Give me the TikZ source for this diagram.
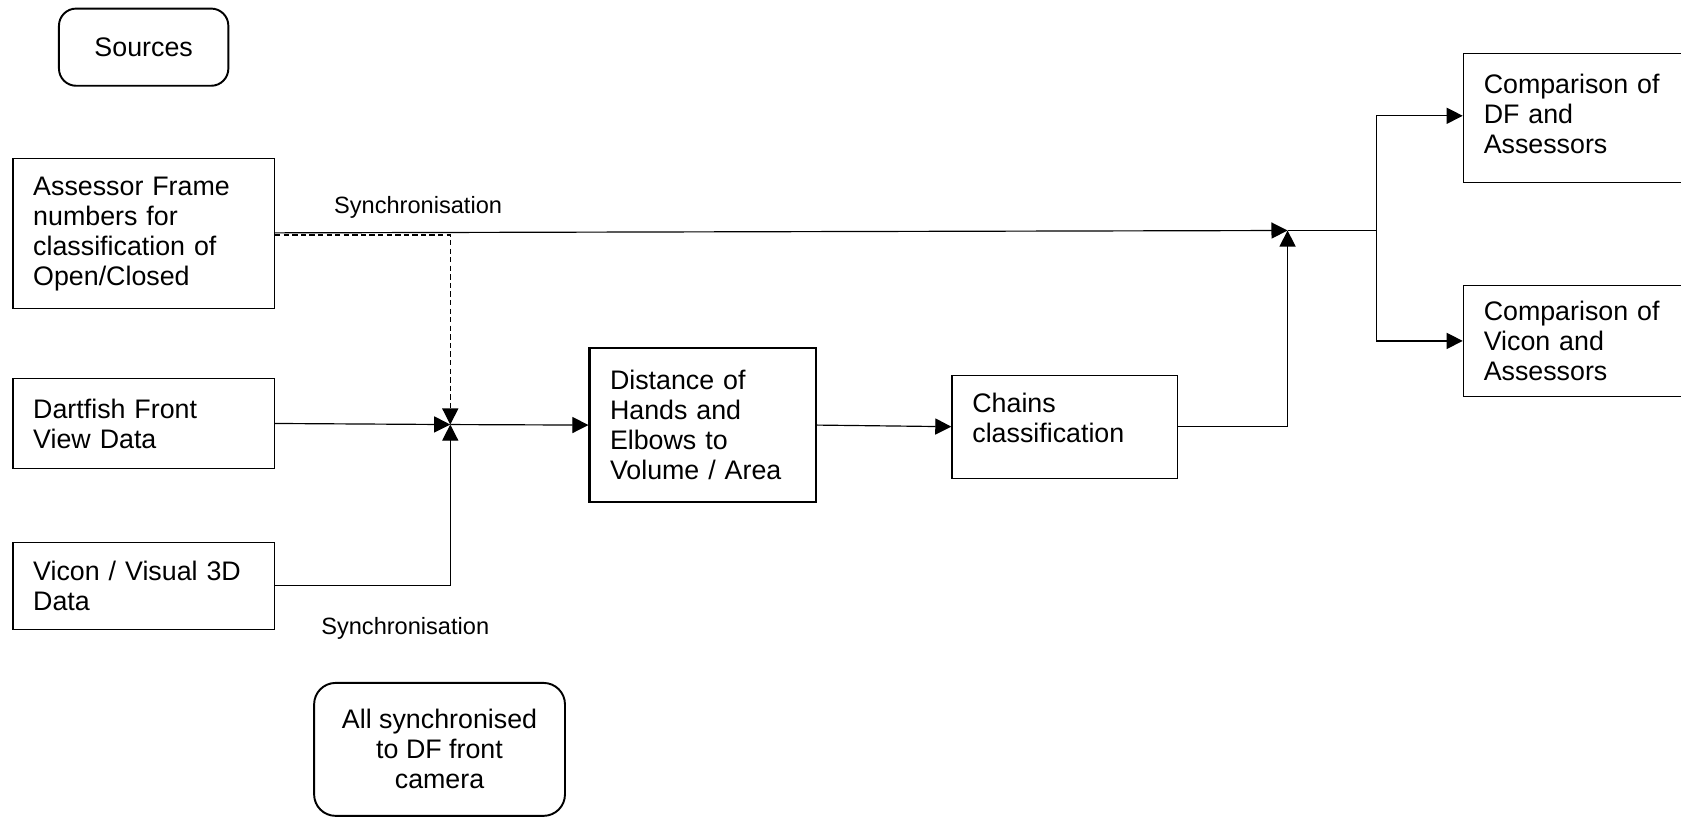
\documentclass[tikz,border=0pt]{standalone}
\usepackage{fontspec}
\setmainfont{Liberation Sans}
\usetikzlibrary{arrows.meta}
\begin{document}
\begin{tikzpicture}[x=0.5pt,y=-0.5pt,
  box/.style={draw, line width=0.6pt, rectangle, align=left, inner xsep=9.5pt, inner ysep=0pt,
    font=\fontsize{12.5}{14}\selectfont},
  rbox/.style={draw, line width=0.9pt, rounded corners=8pt, align=center, inner sep=0pt,
    font=\fontsize{12.5}{14}\selectfont},
  lbl/.style={inner sep=0pt, font=\fontsize{11}{13}\selectfont},
  ln/.style={line width=0.55pt},
  arr/.style={ln, -{Triangle[length=7.5pt,width=7.5pt]}},
  dsh/.style={ln, dash pattern=on 2.5pt off 1.5pt}
]
\clip (0,0) rectangle (1568,762);
\fill[white] (0,0) rectangle (1568,762);

% nodes
\node[rbox, minimum width=79pt, minimum height=36pt] (src) at (134,44) {Sources};
\node[box, text width=103pt, minimum height=70pt] (ass) at (134,218)
  {Assessor Frame\\numbers for\\classification of\\Open/Closed};
\node[box, text width=103pt, minimum height=42pt] (dart) at (134,395)
  {Dartfish Front\\View Data};
\node[box, text width=103pt, minimum height=40.5pt] (vic) at (134,546.5)
  {Vicon / Visual 3D\\Data};
\node[box, line width=1.1pt, text width=86.5pt, minimum height=72pt] (dist) at (655.5,396.5)
  {Distance of\\Hands and\\Elbows to\\Volume / Area};
\node[box, text width=86pt, minimum height=48pt] (chn) at (993,398)
  {Chains\\classification\\[-6pt]\mbox{}};
\node[box, text width=96pt, minimum height=60pt] (cmp1) at (1480,110)
  {Comparison of\\DF and\\Assessors\\[-10pt]\mbox{}};
\node[box, text width=96pt, minimum height=52pt] (cmp2) at (1480,318)
  {Comparison of\\Vicon and\\Assessors};
\node[rbox, rounded corners=10pt, minimum width=117pt, minimum height=62pt] (all) at (410,699)
  {All synchronised\\to DF front\\camera};
\node[lbl] (sync1) at (390,193) {Synchronisation};
\node[lbl] (sync2) at (378,586) {Synchronisation};

% junctions
\coordinate (j1) at (420,396);
\coordinate (j2) at (1201,215);
\coordinate (br) at (1284,215);

% connectors
\draw[arr] ([yshift=0.4pt]ass.east) -- (j2);
\draw[dsh, -{Triangle[length=7.5pt,width=7.5pt]}] ([yshift=-0.6pt]ass.east) -| (j1);
\draw[arr] (dart.east) -- (j1);
\draw[arr] (vic.east) -| (j1);
\draw[arr] (j1) -- (dist.west);
\draw[arr] (dist.east) -- (chn.west);
\draw[arr] (chn.east) -| (j2);
\draw[ln] (j2) -- (br);
\draw[arr] (br) |- ([yshift=1pt]cmp1.west);
\draw[arr] (br) |- (cmp2.west);
\end{tikzpicture}
\end{document}
